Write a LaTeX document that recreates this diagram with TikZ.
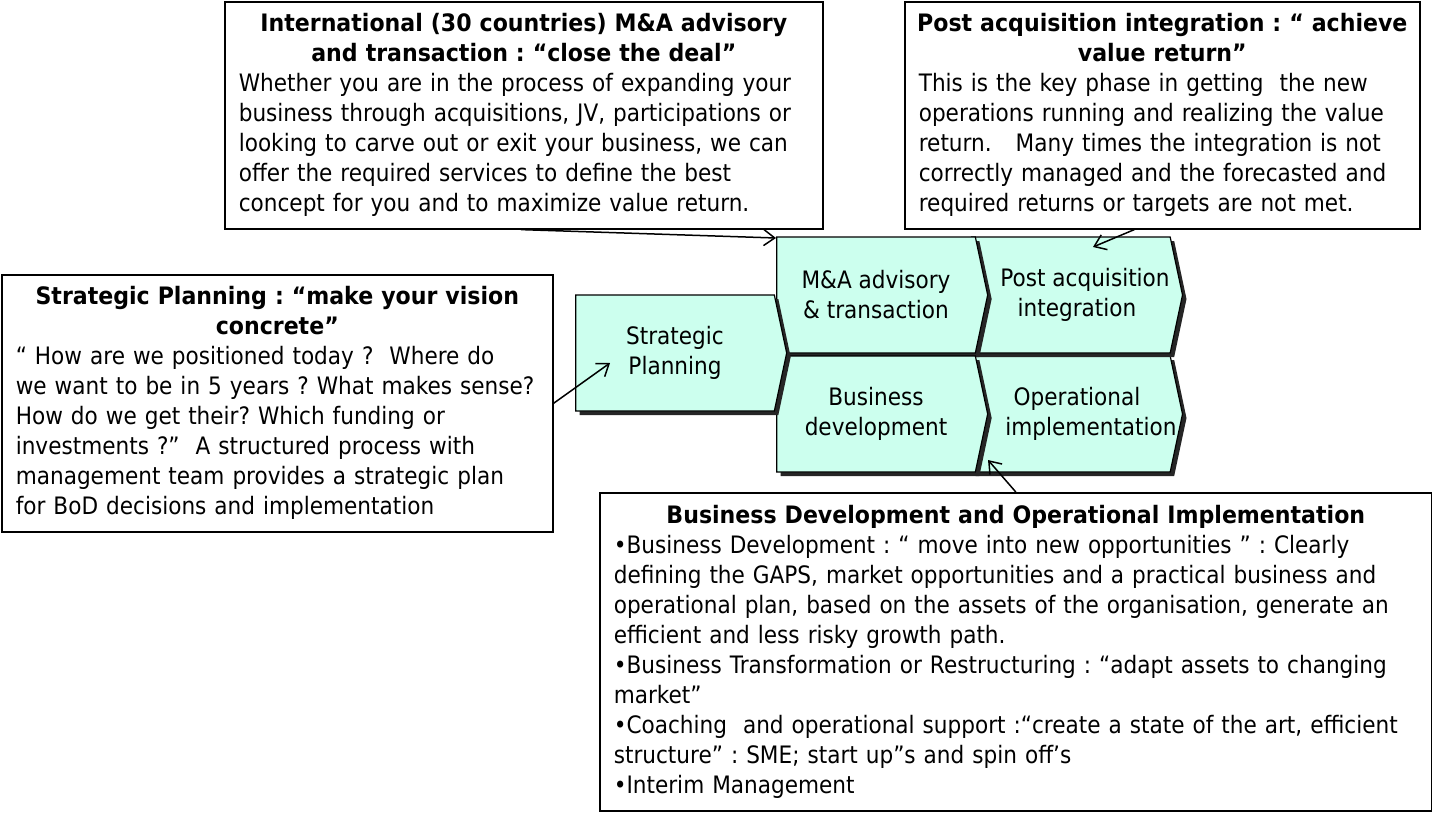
\documentclass[tikz,border=0pt]{standalone}
\usepackage{fontspec}
\setmainfont{DejaVu Sans}[FakeStretch=0.9, BoldFeatures={FakeStretch=0.92}]
\usepackage{xcolor}
\usetikzlibrary{shapes.symbols, shadows, arrows.meta, positioning, calc}
\definecolor{mint}{RGB}{204,255,238}
\frenchspacing
\newcommand{\titleline}[1]{\makebox[\linewidth]{\bfseries #1}}
\newcommand{\nudged}[2]{\makebox[0pt]{\hspace*{#1}#2}}

\begin{document}
\begin{tikzpicture}[
    x=1pt, y=-1pt,
    font=\fontsize{24}{30}\selectfont,
    infobox/.style={rectangle, draw, line width=1.6pt, fill=white, inner xsep=14pt, inner ysep=0pt, align=left, anchor=north west},
    chev/.style={signal, signal to=east, draw, line width=1.2pt, fill=mint, signal pointer angle=156, minimum width=211pt, minimum height=116pt, inner sep=0pt, align=center, drop shadow={shadow xshift=4pt, shadow yshift=-4pt, fill=black!85, opacity=1}},
    arrow/.style={line width=1.5pt, -{Straight Barb[length=11pt,width=16pt]}}
]
\useasboundingbox (0,0) rectangle (1432,816);

% Value chain
\node[chev, signal from=west] (oi) at (1077,414) {Operational\\\nudged{28pt}{implementation}};
\node[chev, signal from=west] (pa) at (1077,295) {\nudged{16pt}{Post acquisition}\\integration};
\node[chev] (ma) at (876,295) {M\&A advisory\\\& transaction};
\node[chev] (bd) at (876,414) {Business\\development};
\node[chev] (sp) at (675,353) {Strategic\\Planning};

% Description boxes
\node[infobox, text width=570pt, minimum height=227pt] (mabox) at (224,1) {%
\titleline{International (30 countries) M\&A advisory}\\
\titleline{and transaction : “close the deal”}\\
Whether you are in the process of expanding your\\
business through acquisitions, JV, participations or\\
looking to carve out or exit your business, we can\\
offer the required services to define the best\\
concept for you and to maximize value return.};

\node[infobox, text width=487pt, minimum height=227pt] (pabox) at (904,1) {%
\titleline{Post acquisition integration : “ achieve}\\
\titleline{value return”}\\
This is the key phase in getting \ the new\\
operations running and realizing the value\\
return. \ \ Many times the integration is not\\
correctly managed and the forecasted and\\
required returns or targets are not met.};

\node[infobox, text width=523pt, minimum height=257pt] (spbox) at (1,274) {%
\titleline{Strategic Planning : “make your vision}\\
\titleline{concrete”}\\
“ How are we positioned today ? \ Where do\\
we want to be in 5 years ? What makes sense?\\
How do we get their? Which funding or\\
investments ?” \ A structured process with\\
management team provides a strategic plan\\
for BoD decisions and implementation};

\node[infobox, text width=804pt, minimum height=318pt] (bdbox) at (599,492) {%
\titleline{Business Development and Operational Implementation}\\
•Business Development : “ move into new opportunities ” : Clearly\\
defining the GAPS, market opportunities and a practical business and\\
operational plan, based on the assets of the organisation, generate an\\
efficient and less risky growth path.\\
•Business Transformation or Restructuring : “adapt assets to changing\\
market”\\
•Coaching \ and operational support :“create a state of the art, efficient\\
structure” : SME; start up”s and spin off’s\\
•Interim Management};

% Arrow targets
\coordinate (ma-in) at (776,238);
\coordinate (pa-in) at (1093,247);
\coordinate (sp-in) at (610,363);
\coordinate (oi-in) at (988,460);

% Arrows
\draw[arrow] ([xshift=-3pt]mabox.south) -- (ma-in);
\draw[arrow] ([xshift=-28pt]pabox.south) -- (pa-in);
\draw[arrow] (spbox.east) -- (sp-in);
\draw[arrow] (bdbox.north) -- (oi-in);

\end{tikzpicture}
\end{document}
